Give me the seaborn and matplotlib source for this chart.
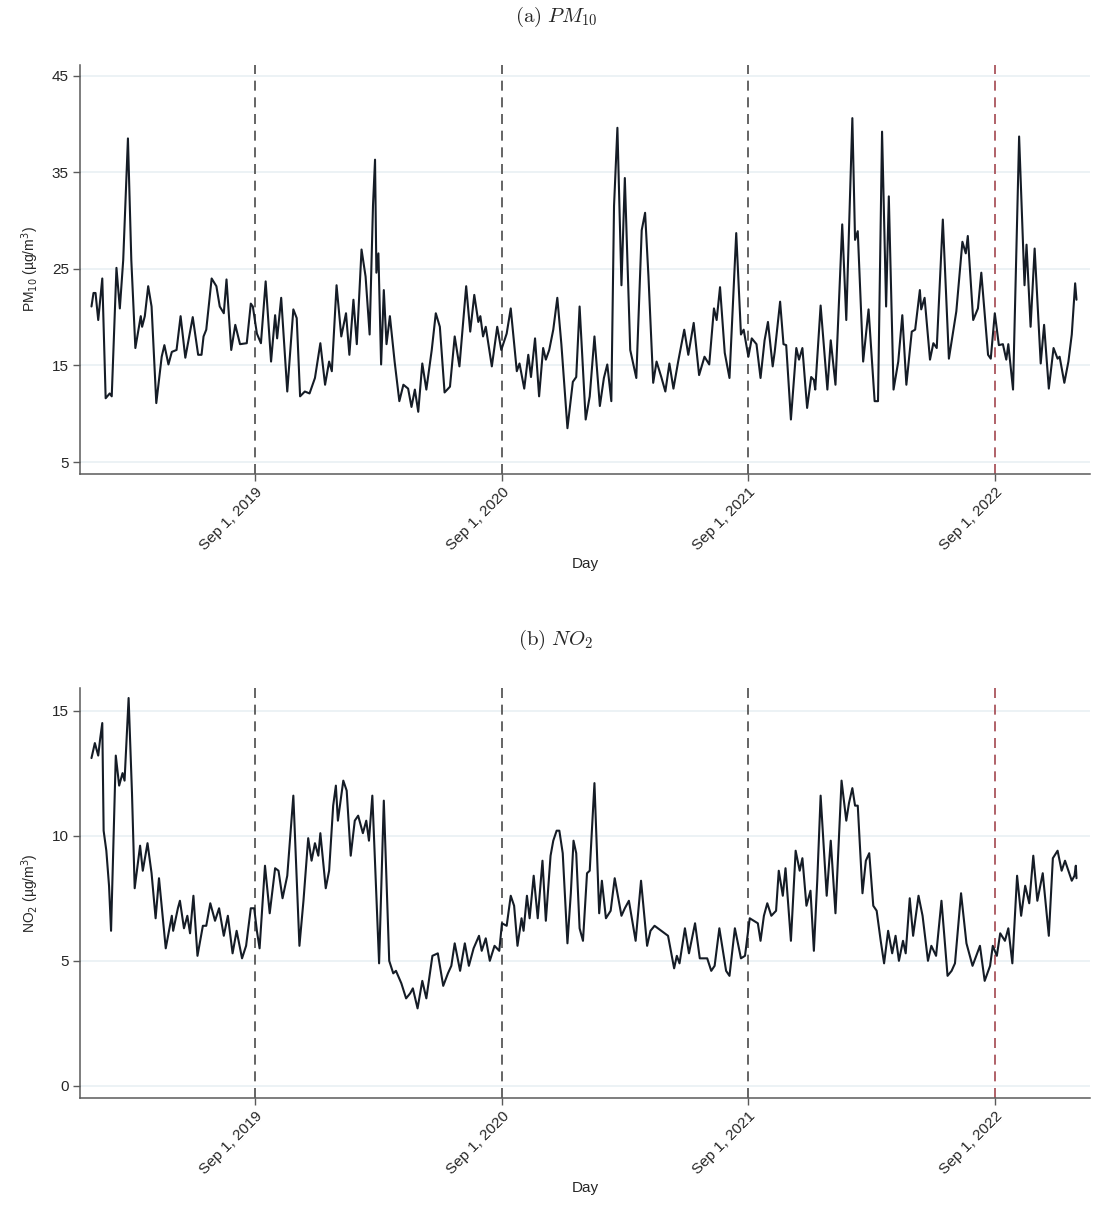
import pandas as pd
import numpy as np
import matplotlib
matplotlib.use("Agg")
import matplotlib.pyplot as plt
import matplotlib.transforms as mtransforms
import seaborn as sns

# days since 2019-01-01 and values
pm10_day = [1, 4, 7, 11, 14, 17, 22, 28, 31, 38, 43, 48, 55, 60, 66, 74, 76, 80, 85, 90,
            97, 105, 109, 115, 120, 127, 133, 140, 151, 159, 164, 167, 171, 179, 186, 191, 197, 201, 208, 214,
            221, 231, 237, 240, 246, 252, 259, 267, 273, 276, 282, 291, 300, 305, 310, 317, 324, 332, 340, 347,
            353, 357, 364, 371, 378, 383, 389, 394, 401, 407, 413, 418, 421, 423, 426, 430, 434, 438, 443, 450,
            457, 463, 470, 475, 480, 485, 491, 497, 505, 511, 517, 524, 532, 539, 546, 556, 562, 568, 574, 577,
            581, 585, 594, 602, 608, 616, 622, 631, 635, 642, 648, 652, 658, 664, 670, 674, 679, 685, 691, 697,
            706, 714, 719, 724, 733, 739, 746, 754, 760, 765, 771, 775, 780, 786, 791, 799, 808, 816, 821, 826,
            833, 838, 845, 851, 857, 863, 870, 879, 885, 893, 901, 909, 916, 923, 927, 932, 939, 946, 956, 963,
            967, 974, 979, 986, 992, 998, 1003, 1010, 1013, 1021, 1026, 1030, 1037, 1045, 1049, 1054, 1061, 1067, 1071, 1073,
            1081, 1091, 1096, 1103, 1113, 1119, 1128, 1132, 1136, 1144, 1152, 1161, 1166, 1172, 1178, 1182, 1189, 1196, 1202, 1208,
            1216, 1221, 1228, 1230, 1235, 1243, 1248, 1253, 1262, 1271, 1282, 1291, 1296, 1299, 1307, 1314, 1319, 1329, 1333, 1339,
            1345, 1351, 1356, 1359, 1366, 1375, 1383, 1386, 1392, 1398, 1407, 1412, 1419, 1426, 1432, 1435, 1442, 1448, 1453, 1458,
            1460]
pm10_val = [21.1, 22.5, 22.5, 19.7, 21.8, 24.0, 11.6, 12.1, 11.8, 25.1, 20.9, 25.9, 38.5, 25.9, 16.8, 20.1, 19.0, 20.1, 23.2, 21.1,
            11.1, 15.9, 17.1, 15.1, 16.4, 16.6, 20.1, 15.8, 20.0, 16.1, 16.1, 18.0, 18.7, 24.0, 23.2, 21.1, 20.4, 23.9, 16.6, 19.2,
            17.2, 17.3, 21.4, 21.1, 18.3, 17.3, 23.7, 15.4, 20.2, 17.8, 22.0, 12.3, 20.8, 19.9, 11.8, 12.3, 12.1, 13.7, 17.3, 13.0,
            15.4, 14.4, 23.3, 18.0, 20.4, 16.1, 21.8, 17.2, 27.0, 24.2, 18.2, 31.6, 36.3, 24.6, 26.6, 15.1, 22.8, 17.2, 20.1, 15.4,
            11.3, 13.0, 12.6, 10.7, 12.5, 10.2, 15.2, 12.5, 16.6, 20.4, 19.0, 12.2, 12.8, 18.0, 14.9, 23.2, 18.5, 22.3, 19.5, 20.1,
            18.0, 19.0, 14.9, 19.0, 16.6, 18.3, 20.9, 14.4, 15.2, 12.6, 16.1, 13.8, 17.8, 11.8, 16.8, 15.6, 16.6, 18.7, 22.0, 17.2,
            8.5, 13.3, 13.8, 21.1, 9.4, 11.8, 18.0, 10.8, 13.7, 15.1, 11.3, 31.5, 39.6, 23.3, 34.4, 16.6, 13.7, 29.0, 30.8, 24.2,
            13.2, 15.4, 13.8, 12.3, 15.2, 12.6, 15.4, 18.7, 16.1, 19.4, 14.0, 15.9, 15.1, 20.9, 19.7, 23.1, 16.3, 13.7, 28.7, 18.2,
            18.7, 15.9, 17.8, 17.2, 13.7, 17.6, 19.5, 14.9, 16.4, 21.6, 17.2, 17.1, 9.4, 16.8, 15.6, 16.8, 10.6, 13.8, 13.5, 12.5,
            21.2, 12.5, 17.6, 13.0, 29.6, 19.7, 40.6, 28.0, 28.9, 15.4, 20.8, 11.3, 11.3, 39.2, 21.1, 32.5, 12.5, 15.4, 20.2, 13.0,
            18.5, 18.7, 22.8, 20.8, 22.0, 15.6, 17.3, 16.8, 30.1, 15.7, 20.6, 27.8, 26.6, 28.4, 19.7, 20.9, 24.6, 16.1, 15.7, 20.4,
            17.1, 17.2, 15.6, 17.2, 12.5, 38.7, 23.3, 27.5, 19.0, 27.1, 15.2, 19.2, 12.6, 16.8, 15.7, 15.9, 13.2, 15.4, 18.2, 23.5,
            21.8]

no2_day = [1, 6, 11, 14, 17, 19, 23, 27, 30, 37, 42, 47, 50, 56, 61, 65, 73, 77, 84, 90,
           96, 101, 111, 120, 122, 129, 132, 138, 143, 147, 152, 158, 166, 171, 177, 184, 190, 197, 203, 210,
           216, 224, 230, 237, 242, 246, 250, 258, 265, 273, 278, 284, 291, 300, 309, 315, 322, 327, 332, 337,
           340, 348, 353, 359, 363, 366, 374, 379, 385, 391, 396, 403, 408, 412, 417, 422, 427, 434, 438, 442,
           448, 452, 460, 467, 473, 477, 484, 491, 497, 506, 514, 522, 529, 534, 539, 547, 554, 560, 567, 575,
           579, 585, 591, 598, 605, 609, 616, 622, 627, 632, 638, 641, 646, 650, 656, 662, 669, 674, 681, 685,
           690, 694, 699, 706, 711, 715, 719, 724, 729, 735, 739, 746, 753, 757, 763, 770, 776, 786, 791, 797,
           807, 815, 824, 829, 835, 845, 855, 864, 868, 872, 880, 886, 895, 902, 909, 913, 919, 924, 931, 941,
           946, 954, 963, 969, 976, 982, 988, 992, 997, 1002, 1008, 1015, 1019, 1025, 1029, 1037, 1044, 1050, 1054, 1060,
           1066, 1071, 1076, 1081, 1090, 1096, 1103, 1112, 1119, 1123, 1128, 1132, 1136, 1143, 1148, 1153, 1159, 1164, 1170, 1175,
           1181, 1187, 1192, 1197, 1203, 1207, 1213, 1218, 1226, 1232, 1240, 1245, 1252, 1260, 1269, 1275, 1280, 1289, 1297, 1306,
           1317, 1324, 1332, 1336, 1342, 1347, 1354, 1359, 1365, 1372, 1378, 1384, 1390, 1396, 1402, 1410, 1419, 1425, 1432, 1438,
           1443, 1448, 1453, 1457, 1459, 1460]
no2_val = [13.1, 13.7, 13.2, 13.9, 14.5, 10.2, 9.4, 8.0, 6.2, 13.2, 12.0, 12.5, 12.2, 15.5, 11.7, 7.9, 9.6, 8.6, 9.7, 8.5,
           6.7, 8.3, 5.5, 6.8, 6.2, 7.1, 7.4, 6.3, 6.8, 6.1, 7.6, 5.2, 6.4, 6.4, 7.3, 6.6, 7.1, 6.0, 6.8, 5.3,
           6.2, 5.1, 5.6, 7.1, 7.1, 6.2, 5.5, 8.8, 6.9, 8.7, 8.6, 7.5, 8.4, 11.6, 5.6, 7.4, 9.9, 9.0, 9.7, 9.2,
           10.1, 7.9, 8.6, 11.2, 12.0, 10.6, 12.2, 11.8, 9.2, 10.6, 10.8, 10.1, 10.6, 9.8, 11.6, 8.2, 4.9, 11.4, 8.2, 5.0,
           4.5, 4.6, 4.1, 3.5, 3.7, 3.9, 3.1, 4.2, 3.5, 5.2, 5.3, 4.0, 4.5, 4.8, 5.7, 4.6, 5.7, 4.8, 5.5, 6.0,
           5.4, 5.9, 5.0, 5.6, 5.4, 6.5, 6.4, 7.6, 7.2, 5.6, 6.7, 6.2, 7.6, 6.7, 8.4, 6.7, 9.0, 6.6, 9.2, 9.8,
           10.2, 10.2, 9.3, 5.7, 7.7, 9.8, 9.3, 6.3, 5.8, 8.5, 8.6, 12.1, 6.9, 8.2, 6.7, 7.0, 8.3, 6.8, 7.1, 7.4,
           5.8, 8.2, 5.6, 6.2, 6.4, 6.2, 6.0, 4.7, 5.2, 4.9, 6.3, 5.3, 6.5, 5.1, 5.1, 5.1, 4.6, 4.8, 6.3, 4.6,
           4.4, 6.3, 5.1, 5.2, 6.7, 6.6, 6.5, 5.8, 6.8, 7.3, 6.8, 7.0, 8.6, 7.6, 8.7, 5.8, 9.4, 8.6, 9.1, 7.2,
           7.8, 5.4, 8.2, 11.6, 7.6, 9.8, 6.9, 12.2, 10.6, 11.3, 11.9, 11.2, 11.2, 7.7, 9.0, 9.3, 7.2, 7.0, 5.8, 4.9,
           6.2, 5.3, 6.0, 5.0, 5.8, 5.3, 7.5, 6.0, 7.6, 6.8, 5.0, 5.6, 5.2, 7.4, 4.4, 4.6, 4.9, 7.7, 5.7, 4.8,
           5.6, 4.2, 4.8, 5.6, 5.2, 6.1, 5.8, 6.3, 4.9, 8.4, 6.8, 8.0, 7.3, 9.2, 7.4, 8.5, 6.0, 9.1, 9.4, 8.6,
           9.0, 8.6, 8.2, 8.4, 8.8, 8.3]

start = pd.Timestamp("2019-01-01")
marker_dates = ["2019-09-01", "2020-09-01", "2021-09-01", "2022-09-01"]
marker_labels = ["Sep 1, 2019", "Sep 1, 2020", "Sep 1, 2021", "Sep 1, 2022"]
marker_colors = ["#4a4a4a", "#4a4a4a", "#4a4a4a", "#a3474f"]

pm10_ticks = [5, 15, 25, 35, 45]
no2_ticks = [0, 5, 10, 15]

sns.set_style("white")
plt.rcParams["font.family"] = ["Liberation Sans", "DejaVu Sans"]

fig = plt.figure(figsize=(10.99, 12.18), dpi=100)
ax1 = fig.add_axes([80 / 1099, 1 - 474 / 1218, 1010 / 1099, 409 / 1218])
ax2 = fig.add_axes([80 / 1099, 1 - 1098 / 1218, 1010 / 1099, 410 / 1218])


def draw_panel(ax, days, vals, ticks, ylim, ylabel):
    df = pd.DataFrame({"date": start + pd.to_timedelta(days, unit="D"), "value": vals})
    for d, c in zip(marker_dates, marker_colors):
        ax.axvline(pd.Timestamp(d), color=c, lw=1.2, ls=(0, (6, 4)), zorder=1)
    sns.lineplot(data=df, x="date", y="value", ax=ax, color="#151c26", lw=1.5, zorder=3)
    ax.set_xlim(pd.Timestamp("2018-12-16"), pd.Timestamp("2023-01-20"))
    ax.set_ylim(*ylim)
    ax.set_yticks(ticks)
    ax.set_yticklabels([str(t) for t in ticks], fontsize=11)
    ax.set_xticks([pd.Timestamp(d) for d in marker_dates])
    ax.set_xticklabels(marker_labels, rotation=45, ha="right", rotation_mode="anchor", fontsize=11)
    shift = mtransforms.ScaledTranslation(-4 / 100, 2 / 100, fig.dpi_scale_trans)
    for lab in ax.get_xticklabels():
        lab.set_transform(lab.get_transform() + shift)
    ax.grid(axis="y", color="#e9f0f3", lw=1.2)
    ax.grid(axis="x", visible=False)
    ax.set_axisbelow(True)
    for s in ["top", "right"]:
        ax.spines[s].set_visible(False)
    for s in ["left", "bottom"]:
        ax.spines[s].set_color("#5a5a5a")
        ax.spines[s].set_linewidth(1.1)
    ax.tick_params(axis="both", direction="out", length=5, width=1, color="#5a5a5a",
                   bottom=True, left=True, pad=3)
    ax.set_xlabel("Day", fontsize=11, labelpad=3)
    ax.set_ylabel(ylabel, fontsize=10, labelpad=8)


draw_panel(ax1, pm10_day, pm10_val, pm10_ticks, (3.76, 46.1), "PM$_{10}$ (µg/m$^{3}$)")
draw_panel(ax2, no2_day, no2_val, no2_ticks, (-0.48, 15.9), "NO$_{2}$ (µg/m$^{3}$)")

fig.text(556 / 1099, 1 - 17 / 1218, r"$\mathrm{(a)}\ PM_{10}$", ha="center", va="center",
         fontsize=15, math_fontfamily="cm")
fig.text(556 / 1099, 1 - 640 / 1218, r"$\mathrm{(b)}\ NO_{2}$", ha="center", va="center",
         fontsize=15, math_fontfamily="cm")

fig.savefig("out.png", dpi=100)
